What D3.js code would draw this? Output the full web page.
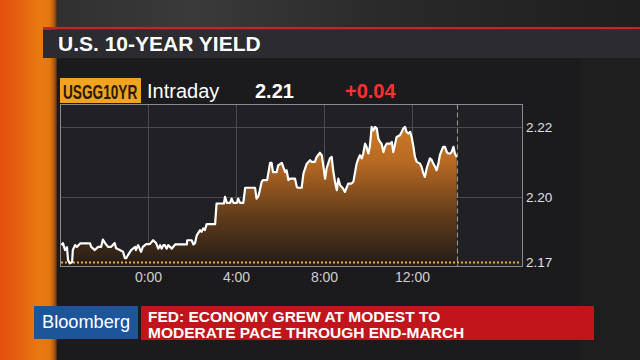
<!DOCTYPE html>
<html><head><meta charset="utf-8">
<script src="https://cdn.jsdelivr.net/npm/d3@7/dist/d3.min.js"></script>
<style>html,body{margin:0;padding:0;background:#232323;overflow:hidden}svg{display:block}</style>
</head><body><svg id="c" width="640" height="360"></svg>
<script>
// ---- data ----
const title = "U.S. 10-YEAR YIELD";
const ticker = "USGG10YR";
const period = "Intraday";
const lastValue = "2.21";
const netChange = "+0.04";
const prevClose = 2.17;
const xTickMinutes = [240, 480, 720, 960];          // minutes after 20:00 prior day
const xTickLabels = ["0:00", "4:00", "8:00", "12:00"];
const yTickValues = [2.22, 2.20];
const yTickLabels = ["2.22", "2.20"];
const prevCloseLabel = "2.17";
const nowMinute = 1084;
const minutes = [4,8,14,19,22,27,33,35,41,46,55,82,85,95,104,112,117,123,131,139,149,153,163,172,177,181,185,194,205,207,213,221,226,235,245,254,262,268,273,277,282,286,291,295,305,314,346,347,359,364,368,373,382,386,391,395,400,423,427,447,450,455,464,468,473,483,486,491,500,505,532,536,541,545,550,554,565,568,573,577,581,591,595,605,614,618,623,627,641,646,649,659,664,673,682,686,695,700,709,714,723,727,736,741,745,750,755,759,764,772,777,782,786,795,800,809,814,818,823,827,832,836,841,845,850,855,859,864,868,873,877,882,886,891,900,905,909,914,918,927,932,936,941,945,950,955,959,964,968,973,982,986,991,995,1000,1004,1009,1014,1018,1023,1027,1032,1036,1041,1045,1050,1055,1059,1064,1068,1073,1077,1082];
const yields = [2.1863,2.1869,2.1849,2.1857,2.1820,2.1811,2.1814,2.1849,2.1863,2.1858,2.1868,2.1868,2.1858,2.1849,2.1858,2.1858,2.1879,2.1869,2.1858,2.1858,2.1869,2.1854,2.1849,2.1844,2.1826,2.1826,2.1834,2.1849,2.1858,2.1849,2.1863,2.1844,2.1858,2.1866,2.1866,2.1877,2.1869,2.1853,2.1863,2.1853,2.1863,2.1863,2.1853,2.1863,2.1853,2.1865,2.1865,2.1877,2.1877,2.1865,2.1868,2.1891,2.1906,2.1901,2.1911,2.1906,2.1923,2.1923,2.1982,2.1982,2.2001,2.1984,2.1984,2.1996,2.1984,2.1984,2.1996,2.1984,2.1984,2.2027,2.2027,2.1996,2.2003,2.2020,2.2044,2.2049,2.2049,2.2068,2.2098,2.2098,2.2072,2.2072,2.2091,2.2098,2.2072,2.2077,2.2049,2.2053,2.2053,2.2029,2.2027,2.2027,2.2068,2.2096,2.2106,2.2101,2.2101,2.2115,2.2127,2.2120,2.2053,2.2082,2.2111,2.2115,2.2077,2.2044,2.2020,2.2053,2.2034,2.2025,2.2015,2.2028,2.2039,2.2039,2.2044,2.2096,2.2111,2.2120,2.2111,2.2125,2.2153,2.2144,2.2125,2.2144,2.2201,2.2191,2.2201,2.2196,2.2168,2.2158,2.2153,2.2129,2.2144,2.2153,2.2153,2.2158,2.2129,2.2153,2.2172,2.2177,2.2187,2.2196,2.2201,2.2187,2.2182,2.2187,2.2172,2.2144,2.2115,2.2101,2.2096,2.2087,2.2068,2.2058,2.2082,2.2096,2.2111,2.2106,2.2096,2.2087,2.2077,2.2096,2.2120,2.2134,2.2144,2.2144,2.2129,2.2125,2.2125,2.2129,2.2144,2.2125,2.2115];
const headlineLines = ["FED: ECONOMY GREW AT MODEST TO", "MODERATE PACE THROUGH END-MARCH"];
const brand = "Bloomberg";

// ---- drawing ----
const svg = d3.select("#c");
const F = "'Liberation Sans', Arial, Helvetica, sans-serif";
const defs = svg.append("defs");

const og = defs.append("linearGradient").attr("id","orangeBand").attr("x1",0).attr("x2",1).attr("y1",0).attr("y2",0);
[[0,"#e14f0c"],[0.35,"#e5620e"],[0.7,"#e97a12"],[0.88,"#e27610"],[0.96,"#a8520f"],[1,"#4a2a12"]].forEach(s=>og.append("stop").attr("offset",s[0]).attr("stop-color",s[1]));
const tg = defs.append("linearGradient").attr("id","topBg").attr("x1",0).attr("x2",1).attr("y1",0).attr("y2",0);
[[0,"#2c2c2c"],[0.3,"#3a3a3a"],[0.6,"#2a2a2a"],[1,"#1e1e1e"]].forEach(s=>tg.append("stop").attr("offset",s[0]).attr("stop-color",s[1]));

// background
svg.append("rect").attr("width",640).attr("height",360).attr("fill","#222222");
svg.append("rect").attr("x",0).attr("y",0).attr("width",640).attr("height",30).attr("fill","url(#topBg)");
svg.append("rect").attr("x",57).attr("y",58).attr("width",523).attr("height",302).attr("fill","#1b1b1e");
svg.append("rect").attr("x",580).attr("y",58).attr("width",60).attr("height",302).attr("fill","#1e1e1f");
svg.append("rect").attr("x",0).attr("y",0).attr("width",57).attr("height",360).attr("fill","url(#orangeBand)");

// red rule and title bar
svg.append("rect").attr("x",43).attr("y",27).attr("width",597).attr("height",2.5).attr("fill","#c2262a");
svg.append("rect").attr("x",43).attr("y",29.5).attr("width",597).attr("height",28.5).attr("fill","#2b2b30");
svg.append("text").attr("x",58).attr("y",51).attr("font-family",F).attr("font-weight","bold").attr("font-size",21).attr("fill","#ffffff").text(title);

// header row
svg.append("rect").attr("x",60).attr("y",78).attr("width",81).attr("height",25).attr("fill","#f2a31f");
svg.append("text").attr("transform","translate(63,99) scale(0.7,1)").attr("font-family",F).attr("font-weight","bold").attr("font-size",19.5)
  .attr("fill","#2a1c08").text(ticker);
svg.append("text").attr("x",147).attr("y",98).attr("font-family",F).attr("font-size",20).attr("fill","#ffffff").text(period);
svg.append("text").attr("x",255).attr("y",98).attr("font-family",F).attr("font-weight","bold").attr("font-size",20).attr("fill","#ffffff").text(lastValue);
svg.append("text").attr("x",345).attr("y",98).attr("font-family",F).attr("font-weight","bold").attr("font-size",20).attr("fill","#ff3030").text(netChange);

// chart
const plot = {l:60, r:522, t:104.5, b:266.5};
const x = d3.scaleLinear().domain([0,1260]).range([plot.l, plot.r]);
const y = d3.scaleLinear().domain([2.1802, 2.2265]).range([plot.b, plot.t]).clamp(true);

svg.append("rect").attr("x",plot.l).attr("y",plot.t).attr("width",plot.r-plot.l).attr("height",plot.b-plot.t).attr("fill","#212125");

// grid
svg.append("g").selectAll("line").data(yTickValues).join("line")
  .attr("x1",plot.l).attr("x2",plot.r).attr("y1",d=>Math.round(y(d))+0.5).attr("y2",d=>Math.round(y(d))+0.5)
  .attr("stroke","#4c4c50").attr("stroke-width",1);
svg.append("g").selectAll("line").data(xTickMinutes).join("line")
  .attr("y1",plot.t).attr("y2",plot.b).attr("x1",d=>Math.round(x(d))+0.5).attr("x2",d=>Math.round(x(d))+0.5)
  .attr("stroke","#4c4c50").attr("stroke-width",1);

const data = minutes.map((m,i)=>({m, v:yields[i]}));
const ag = defs.append("linearGradient").attr("id","areaGrad").attr("gradientUnits","userSpaceOnUse")
  .attr("x1",0).attr("x2",0).attr("y1",plot.t).attr("y2",plot.b);
[[0,"#d8832a"],[0.35,"#b86a22"],[0.7,"#5e3a1a"],[1,"#221b16"]].forEach(s=>ag.append("stop").attr("offset",s[0]).attr("stop-color",s[1]));

svg.append("path").datum(data)
  .attr("d", d3.area().x(d=>x(d.m)).y0(plot.b).y1(d=>y(d.v)))
  .attr("fill","url(#areaGrad)");

// previous close dotted line (clamped to plot bottom)
const pcY = plot.b - 4;
svg.append("line").attr("x1",plot.l+1).attr("x2",plot.r-1).attr("y1",pcY).attr("y2",pcY)
  .attr("stroke","#f2a93a").attr("stroke-width",2).attr("stroke-dasharray","2,2");

svg.append("path").datum(data)
  .attr("d", d3.line().x(d=>x(d.m)).y(d=>y(d.v)))
  .attr("fill","none").attr("stroke","#ffffff").attr("stroke-width",2.2).attr("stroke-linejoin","round");

// now marker
svg.append("line").attr("x1",x(nowMinute)).attr("x2",x(nowMinute)).attr("y1",plot.t).attr("y2",plot.b)
  .attr("stroke","#a0a0a0").attr("stroke-width",1).attr("stroke-dasharray","5,3");

// frame
svg.append("rect").attr("x",plot.l+0.5).attr("y",plot.t).attr("width",plot.r-plot.l).attr("height",plot.b-plot.t)
  .attr("fill","none").attr("stroke","#8c8c8e").attr("stroke-width",1);

// axes labels
const xAxis = d3.axisBottom(x).tickValues(xTickMinutes).tickFormat((d,i)=>xTickLabels[i]).tickSize(0).tickPadding(6);
const gx = svg.append("g").attr("transform",`translate(0,${plot.b})`).call(xAxis);
gx.select(".domain").remove();
gx.selectAll("text").attr("font-family",F).attr("font-size",14).attr("fill","#cfcfcf");

const yAxis = d3.axisRight(y).tickValues(yTickValues).tickFormat((d,i)=>yTickLabels[i]).tickSize(0).tickPadding(4);
const gy = svg.append("g").attr("transform",`translate(${plot.r},0)`).call(yAxis);
gy.select(".domain").remove();
gy.selectAll("text").attr("font-family",F).attr("font-size",13.5).attr("fill","#e0e0e0");
svg.append("text").attr("x",plot.r+4).attr("y",pcY).attr("dy","0.32em").attr("font-family",F).attr("font-size",13.5).attr("fill","#e0e0e0").text(prevCloseLabel);

// lower third
svg.append("rect").attr("x",34).attr("y",306).attr("width",104).attr("height",33).attr("fill","#1d559b");
svg.append("text").attr("x",42).attr("y",328).attr("font-family",F).attr("font-size",18).attr("textLength",88).attr("lengthAdjust","spacingAndGlyphs").attr("fill","#ffffff").text(brand);
svg.append("rect").attr("x",141).attr("y",306).attr("width",453).attr("height",34).attr("fill","#c1151b");
svg.selectAll("text.hl").data(headlineLines).join("text").attr("class","hl")
  .attr("x",148).attr("y",(d,i)=>322+i*15.7).attr("font-family",F).attr("font-weight","bold").attr("font-size",15.5).attr("fill","#ffffff").text(d=>d);
</script></body></html>
